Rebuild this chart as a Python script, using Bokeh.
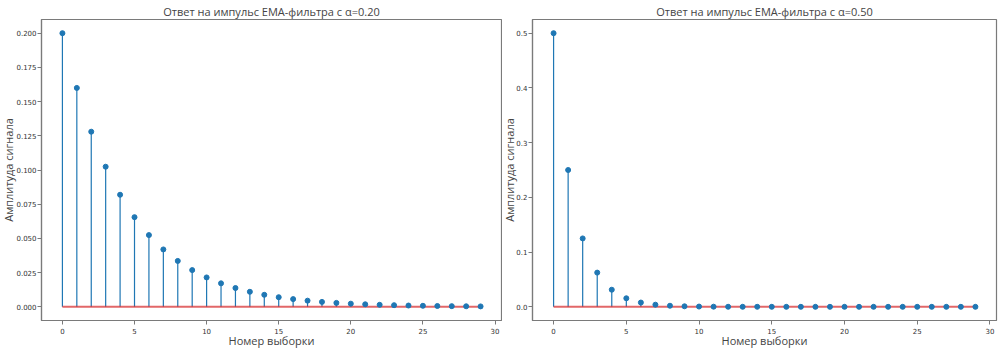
from bokeh.plotting import figure
from bokeh.layouts import row
from bokeh.models import FixedTicker, Range1d, CustomJSTickFormatter, Title
from bokeh.embed import file_html
from bokeh.resources import INLINE

samples = list(range(30))
resp_a020 = [0.2, 0.16, 0.128, 0.1024, 0.08192, 0.065536, 0.052429, 0.041943,
             0.033554, 0.026844, 0.021475, 0.01718, 0.013744, 0.010995, 0.008796,
             0.007037, 0.00563, 0.004504, 0.003603, 0.002882, 0.002306, 0.001845,
             0.001476, 0.001181, 0.000944, 0.000756, 0.000604, 0.000484, 0.000387,
             0.00031]
resp_a050 = [0.5, 0.25, 0.125, 0.0625, 0.03125, 0.015625, 0.0078125, 0.0039063,
             0.0019531, 0.00097656, 0.00048828, 0.00024414, 0.00012207, 0.000061,
             0.0000305, 0.0000153, 0.0000076, 0.0000038, 0.0000019, 0.00000095,
             0.00000048, 0.00000024, 0.00000012, 0.00000006, 0.00000003,
             0.000000015, 0.000000007, 0.000000004, 0.000000002, 0.000000001]
titles = ["Ответ на импульс EMA-фильтра с α=0.20", "Ответ на импульс EMA-фильтра с α=0.50"]
x_label = "Номер выборки"
y_label = "Амплитуда сигнала"
x_ticks = [0, 5, 10, 15, 20, 25, 30]
y_ticks_a = [0.0, 0.025, 0.05, 0.075, 0.1, 0.125, 0.15, 0.175, 0.2]
y_ticks_b = [0.0, 0.1, 0.2, 0.3, 0.4, 0.5]

BLUE = "#1f77b4"
RED = "#d62728"
FRAME = "#7a7a7a"


def make(vals, title, yticks, decimals, width, br, lab_standoff, tick_standoff):
    ymax = max(vals)
    pad = ymax * 0.05
    p = figure(width=width, height=350, output_backend="svg", toolbar_location=None,
               x_range=Range1d(-1.45, 30.45), y_range=Range1d(-pad, ymax + pad),
               min_border_left=0, min_border_right=br, min_border_top=0,
               min_border_bottom=0)
    p.title.text = title
    p.title.align = "center"
    p.title.text_font = "Open Sans"
    p.title.text_font_size = "11px"
    p.title.text_font_style = "normal"
    p.title.text_color = "#444444"
    p.title.standoff = 2
    p.grid.visible = False
    p.outline_line_color = FRAME
    p.outline_line_width = 1.2
    for ax in (p.xaxis, p.yaxis):
        ax.axis_line_color = FRAME
        ax.axis_line_width = 1.2
        ax.major_tick_line_color = FRAME
        ax.major_tick_out = 4
        ax.major_tick_in = 0
        ax.minor_tick_line_color = None
        ax.major_label_text_font = "DejaVu Sans"
        ax.major_label_text_font_size = "7px"
        ax.major_label_text_color = "#333333"
        ax.axis_label_text_font = "Open Sans"
        ax.axis_label_text_font_size = "11px"
        ax.axis_label_text_font_style = "normal"
        ax.axis_label_text_color = "#444444"
    p.xaxis.ticker = FixedTicker(ticks=x_ticks)
    p.yaxis.ticker = FixedTicker(ticks=yticks)
    p.yaxis.formatter = CustomJSTickFormatter(code="return tick.toFixed(%d);" % decimals)
    p.xaxis.axis_label = x_label
    p.xaxis.major_label_standoff = 3
    p.yaxis.major_label_standoff = tick_standoff
    p.xaxis.axis_label_standoff = -4
    yl = Title(text=y_label, align="center", text_font="Open Sans",
               text_font_size="11px", text_font_style="normal",
               text_color="#444444", standoff=lab_standoff)
    p.add_layout(yl, "left")
    p.segment(x0=samples, y0=[0] * len(samples), x1=samples, y1=vals,
              line_color=BLUE, line_width=1.2)
    p.line(x=[samples[0], samples[-1]], y=[0, 0], line_color=RED, line_width=2,
           line_alpha=0.7)
    p.scatter(x=samples, y=vals, size=5, fill_color=BLUE, line_color=BLUE)
    return p


p1 = make(resp_a020, titles[0], y_ticks_a, 3, 502, 1, -4, 1)
p2 = make(resp_a050, titles[1], y_ticks_b, 1, 498, 4, -6, 1)
layout = row(p1, p2)
open("out.html", "w").write(file_html(layout, INLINE))
